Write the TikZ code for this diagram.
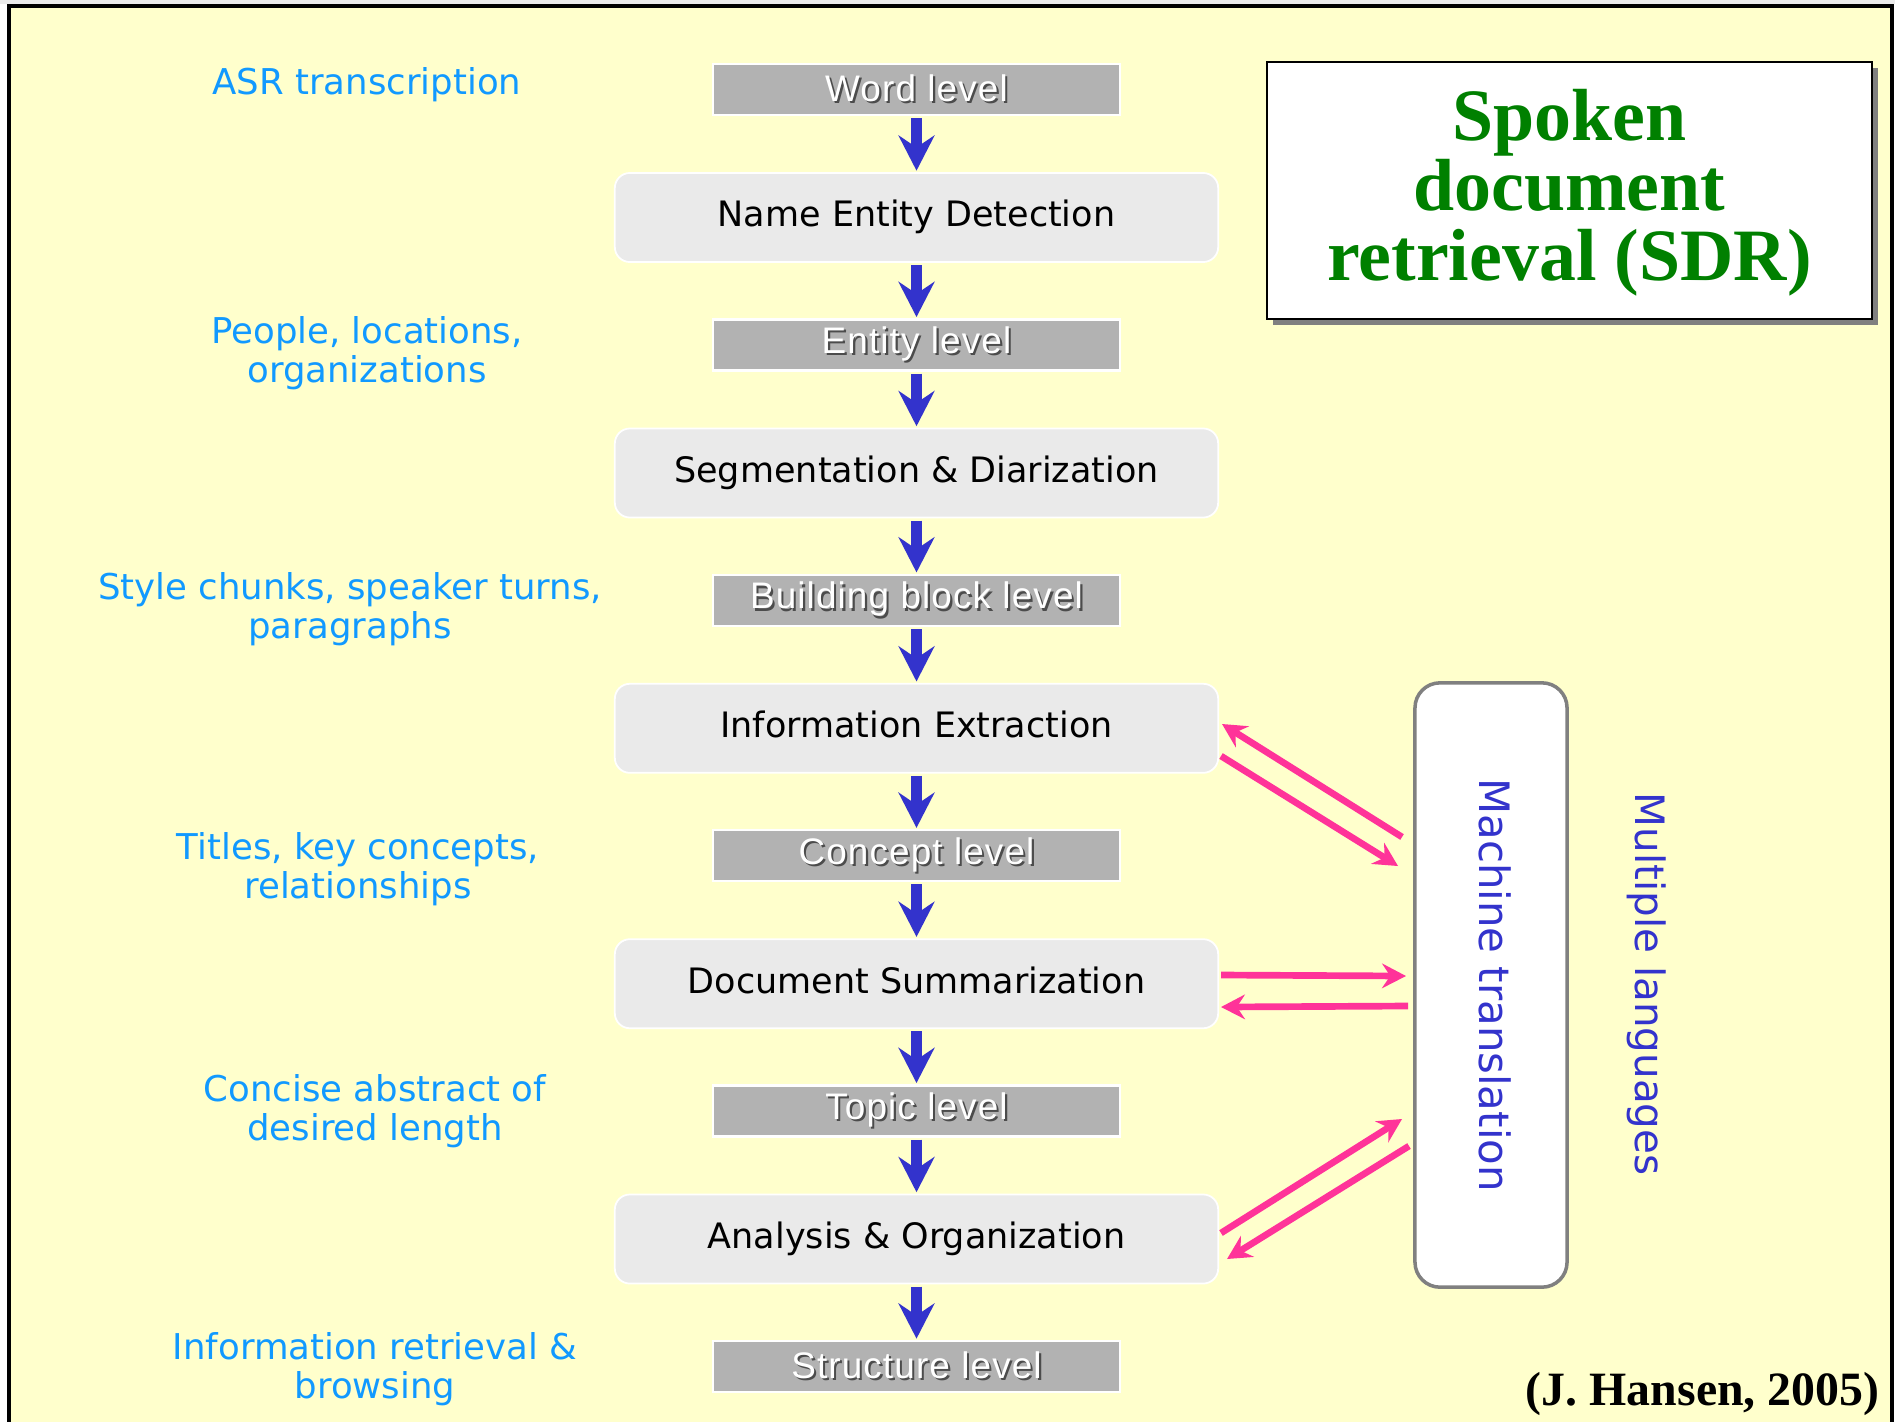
\documentclass[tikz,border=0pt]{standalone}
\usepackage{fontspec}
\setmainfont{Liberation Serif}
\newfontfamily\dvfont{DejaVu Sans}
\newfontfamily\lvfont[LetterSpace=3]{Liberation Sans}
\usetikzlibrary{arrows.meta,shadows}

\definecolor{paper}{HTML}{FFFFCC}
\definecolor{levelgray}{HTML}{B2B2B2}
\definecolor{procgray}{HTML}{EAEAEA}
\definecolor{flowblue}{HTML}{3333CC}
\definecolor{notecyan}{HTML}{1199FF}
\definecolor{mtpink}{HTML}{FF3399}
\definecolor{titlegreen}{HTML}{008000}

% white lettering with a small dark drop shadow
\newcommand{\shadowtext}[1]{\leavevmode\rlap{\hspace{0.6pt}\raisebox{-0.6pt}{\color{black!70}#1}}{\color{white}#1}}

\tikzset{
  level/.style={fill=levelgray, draw=white, line width=0.6pt, minimum width=4.07cm,
    minimum height=0.51cm, inner sep=0pt, font=\lvfont\fontsize{10.5}{12}\selectfont},
  proc/.style={fill=procgray, draw=white, line width=0.5pt, rounded corners=0.15cm,
    minimum width=6.03cm, minimum height=0.89cm, inner sep=0pt,
    text height=0.75em, text depth=0.22em,
    font=\dvfont\fontsize{9.95}{11}\selectfont},
  note/.style={text=notecyan, align=center, inner sep=0pt,
    font=\dvfont\fontsize{10.1}{11.1}\selectfont},
  flow/.style={draw=flowblue, line width=3.3pt,
    -{Stealth[length=10pt, width=10.2pt, inset=3.4pt]},
    shorten <=0.6pt, shorten >=0.4pt},
  xlink/.style={draw=mtpink, line width=1.9pt,
    -{Stealth[length=6.8pt, width=7pt, inset=2.3pt]}},
  vlabel/.style={rotate=-90, text=flowblue, inner sep=0pt},
}

\begin{document}
\begin{tikzpicture}[x=0.01cm, y=-0.01cm]
\clip (0,0) rectangle (1895,1421);
\fill[white] (0,0) rectangle (1895,1421);
\fill[black!8] (0,0) rectangle (1895,4);
\draw[fill=paper, line width=0.9pt] (9,6) rectangle (1892,1460);

% level boxes
\node[level] (lw) at (916.5,89.5)  {\shadowtext{Word level}};
\node[level] (le) at (916.5,345)   {\shadowtext{Entity level}};
\node[level] (lb) at (916.5,600.4) {\shadowtext{Building block level}};
\node[level] (lc) at (916.5,855.8) {\shadowtext{Concept level}};
\node[level] (lt) at (916.5,1111)  {\shadowtext{Topic level}};
\node[level] (ls) at (916.5,1366.6){\shadowtext{Structure level}};

% processing stages
\node[proc] (ned) at (916.5,217.5) {Name Entity Detection};
\node[proc] (sd)  at (916.5,473)   {Segmentation \& Diarization};
\node[proc] (ie)  at (916.5,728.3) {Information Extraction};
\node[proc] (ds)  at (916.5,983.7) {Document Summarization};
\node[proc] (ao)  at (916.5,1239)  {Analysis \& Organization};

% flow
\draw[flow] (lw) -- (ned);
\draw[flow] (ned) -- (le);
\draw[flow] (le) -- (sd);
\draw[flow] (sd) -- (lb);
\draw[flow] (lb) -- (ie);
\draw[flow] (ie) -- (lc);
\draw[flow] (lc) -- (ds);
\draw[flow] (ds) -- (lt);
\draw[flow] (lt) -- (ao);
\draw[flow] (ao) -- (ls);

% side notes
\node[note] (n1) at (367,85)     {ASR transcription};
\node[note] (n2) at (367,353)    {People, locations,\\organizations};
\node[note] (n3) at (350,609.5)  {Style chunks, speaker turns,\\paragraphs};
\node[note] (n4) at (358,869.5)  {Titles, key concepts,\\relationships};
\node[note] (n5) at (375,1111.5) {Concise abstract of\\desired length};
\node[note] (n6) at (375,1369)   {Information retrieval \&\\browsing};

% title
\node[draw=black, fill=white, line width=0.6pt, minimum width=6.05cm, minimum height=2.57cm,
  inner sep=0pt, drop shadow={shadow xshift=1.7pt, shadow yshift=-1.7pt, fill=black!50, opacity=1}]
  (title) at (1569.5,190.5) {};
\node[text=titlegreen, align=center, inner sep=0pt,
  font=\bfseries\fontsize{21}{19.9}\selectfont] (titletext) at (1569.5,193)
  {Spoken\\document\\retrieval (SDR)};

% machine translation
\node[draw=black!50, fill=white, line width=1pt, rounded corners=0.25cm,
  minimum width=1.52cm, minimum height=6.04cm, inner sep=0pt] (mt) at (1491,985) {};
\node[vlabel, font=\dvfont\fontsize{11.9}{13}\selectfont] (mtlabel) at (1495,985) {Machine translation};
\node[vlabel, font=\dvfont\fontsize{11.5}{13}\selectfont] (langs) at (1647,984) {Multiple languages};

\coordinate (mt-a1) at (1402,837);
\coordinate (ie-a1) at (1222,724);
\coordinate (ie-a2) at (1221,756);
\coordinate (mt-a2) at (1398,866);
\coordinate (ds-b1) at (1221,975);
\coordinate (mt-b1) at (1406,976);
\coordinate (mt-b2) at (1408,1006);
\coordinate (ds-b2) at (1221,1007);
\coordinate (ao-c1) at (1221,1233);
\coordinate (mt-c1) at (1402,1119);
\coordinate (mt-c2) at (1409,1146);
\coordinate (ao-c2) at (1227,1259);

\draw[xlink] (mt-a1) -- (ie-a1);
\draw[xlink] (ie-a2) -- (mt-a2);
\draw[xlink] (ds-b1) -- (mt-b1);
\draw[xlink] (mt-b2) -- (ds-b2);
\draw[xlink] (ao-c1) -- (mt-c1);
\draw[xlink] (mt-c2) -- (ao-c2);

% credit
\node[anchor=base east, inner sep=0pt, font=\bfseries\fontsize{13.6}{15}\selectfont]
  (credit) at (1880,1405) {(J. Hansen, 2005)};
\end{tikzpicture}
\end{document}
